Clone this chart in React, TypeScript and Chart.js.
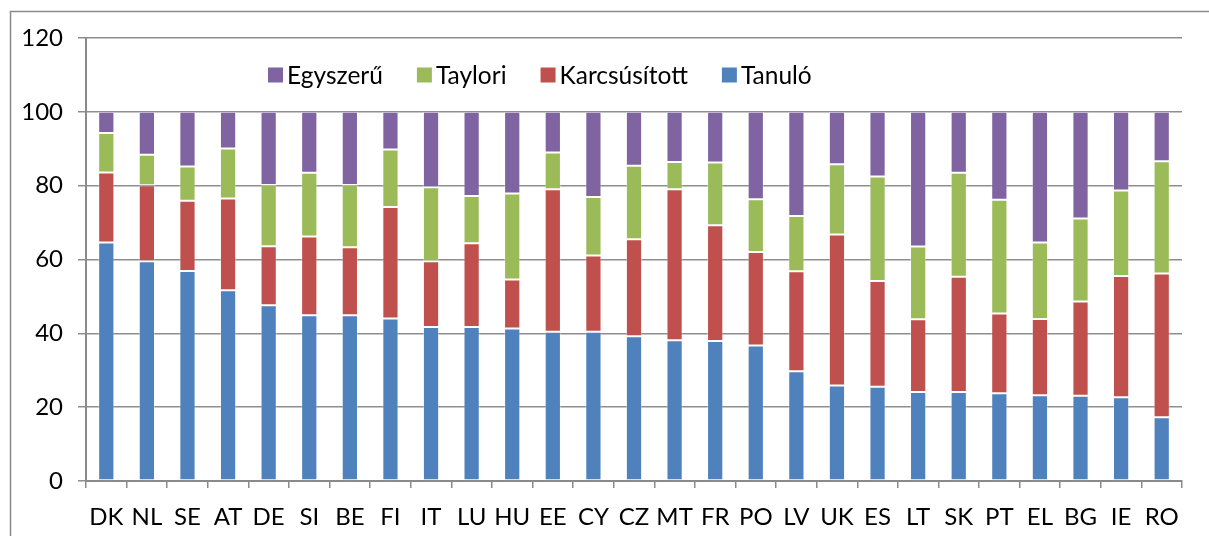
import React, { useEffect, useRef } from "react";
import { Chart, registerables } from "chart.js";

Chart.register(...registerables);

const categories = ["DK", "NL", "SE", "AT", "DE", "SI", "BE", "FI", "IT", "LU", "HU", "EE", "CY", "CZ", "MT", "FR", "PO", "LV", "UK", "ES", "LT", "SK", "PT", "EL", "BG", "IE", "RO"];

const tanulo = [64.6, 59.5, 56.9, 51.7, 47.6, 44.9, 44.9, 44.0, 41.7, 41.7, 41.3, 40.4, 40.4, 39.2, 38.1, 37.9, 36.7, 29.7, 25.9, 25.5, 24.1, 24.1, 23.8, 23.2, 23.1, 22.7, 17.3];
const karcsusitott = [19.0, 20.6, 19.0, 24.8, 16.0, 21.3, 18.4, 30.2, 17.8, 22.7, 13.3, 38.6, 20.7, 26.3, 40.9, 31.4, 25.3, 27.1, 40.9, 28.7, 19.7, 31.2, 21.6, 20.7, 25.5, 32.8, 38.9];
const taylori = [10.7, 8.3, 9.3, 13.6, 16.6, 17.3, 16.9, 15.6, 20.1, 12.8, 23.3, 10.0, 15.8, 19.9, 7.4, 17.0, 14.3, 15.0, 19.0, 28.3, 19.7, 28.2, 30.8, 20.7, 22.5, 23.2, 30.4];
const egyszeru = [5.7, 11.6, 14.8, 9.9, 19.8, 16.5, 19.8, 10.2, 20.4, 22.8, 22.1, 11.0, 23.1, 14.6, 13.6, 13.7, 23.7, 28.2, 14.2, 17.5, 36.5, 16.5, 23.8, 35.4, 28.9, 21.3, 13.4];

const yTicks = [0, 20, 40, 60, 80, 100, 120];

const FONT = "Lato, 'Noto Sans', sans-serif";

const framePlugin = {
  id: "frame",
  beforeDraw(chart: any) {
    const ctx = chart.ctx;
    ctx.save();
    ctx.fillStyle = "#ffffff";
    ctx.fillRect(0, 0, chart.width, chart.height);
    ctx.strokeStyle = "#8a8a8a";
    ctx.lineWidth = 1.5;
    ctx.strokeRect(10.5, 11.5, chart.width + 50, chart.height + 50);
    ctx.restore();
  },
};

const legendPlugin = {
  id: "innerLegend",
  afterDraw(chart: any) {
    const ctx = chart.ctx;
    const area = chart.chartArea;
    const items = [...chart.data.datasets].reverse();
    ctx.save();
    ctx.font = `24.5px ${FONT}`;
    ctx.textBaseline = "middle";
    let x = area.left + 182;
    const cy = area.top + 37;
    const box = 15;
    items.forEach((ds: any) => {
      ctx.fillStyle = ds.backgroundColor;
      ctx.fillRect(x, cy - box / 2, box, box);
      x += box + 4;
      ctx.fillStyle = "#000000";
      ctx.fillText(ds.label, x, cy + 1);
      x += ctx.measureText(ds.label).width + 34;
    });
    ctx.restore();
  },
};

export default function App() {
  const ref = useRef<HTMLCanvasElement | null>(null);

  useEffect(() => {
    document.body.style.margin = "0";
    if (!ref.current) return;
    const mk = (label: string, data: number[], color: string) => ({
      label,
      data,
      backgroundColor: color,
      borderColor: "rgba(255,255,255,0.35)",
      borderWidth: 1,
      borderSkipped: false,
      barPercentage: 0.4,
      categoryPercentage: 1,
    });
    const chart = new Chart(ref.current, {
      type: "bar",
      data: {
        labels: categories,
        datasets: [
          mk("Tanuló", tanulo, "#4F81BD"),
          mk("Karcsúsított", karcsusitott, "#C0504D"),
          mk("Taylori", taylori, "#9BBB59"),
          mk("Egyszerű", egyszeru, "#8064A2"),
        ],
      },
      options: {
        animation: false,
        responsive: false,
        maintainAspectRatio: false,
        layout: { padding: { top: 38, right: 27, left: 0, bottom: 0 } },
        plugins: {
          legend: { display: false },
          tooltip: { enabled: false },
        },
        scales: {
          x: {
            stacked: true,
            grid: {
              drawOnChartArea: false,
              drawTicks: true,
              tickLength: 7,
              color: "#8a8a8a",
              lineWidth: 1.5,
            },
            border: { color: "#8a8a8a", width: 2 },
            ticks: {
              color: "#000000",
              font: { family: FONT, size: 24 },
              padding: 15,
              maxRotation: 0,
              autoSkip: false,
            },
            afterFit(scale: any) {
              scale.height = 55;
            },
          },
          y: {
            stacked: true,
            min: 0,
            max: 120,
            afterBuildTicks(scale: any) {
              scale.ticks = yTicks.map((v) => ({ value: v }));
            },
            grid: {
              color: "#8e8e8e",
              lineWidth: 1.5,
              drawTicks: true,
              tickLength: 8,
            },
            border: { color: "#8a8a8a", width: 2 },
            ticks: {
              color: "#000000",
              font: { family: FONT, size: 24 },
              padding: 15,
            },
            afterFit(scale: any) {
              scale.width = 86;
            },
          },
        },
      },
      plugins: [framePlugin, legendPlugin],
    });
    return () => chart.destroy();
  }, []);

  return (
    <div style={{ width: 1209, height: 536 }}>
      <canvas ref={ref} width={1209} height={536} style={{ display: "block" }} />
    </div>
  );
}
